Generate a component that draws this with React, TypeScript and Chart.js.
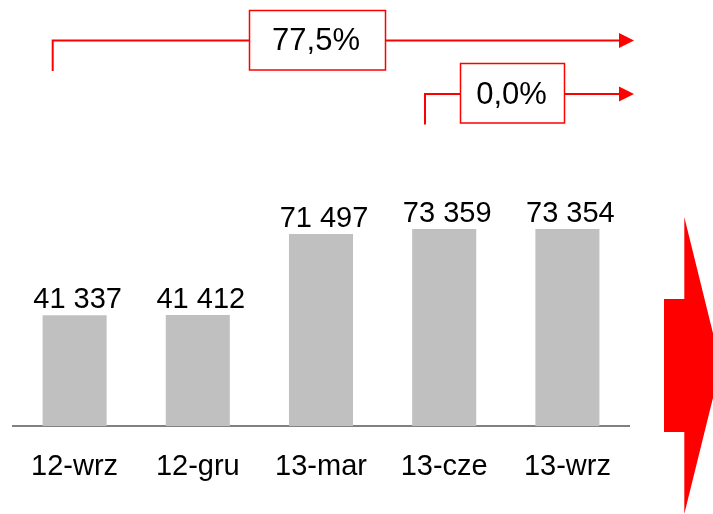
import React, { useEffect, useRef } from "react";
import { Chart, registerables } from "chart.js";

Chart.register(...registerables);

const categories = ["12-wrz", "12-gru", "13-mar", "13-cze", "13-wrz"];
const values = [41337, 41412, 71497, 73359, 73354];
const changeLabels = ["77,5%", "0,0%"];

const FONT = "'Liberation Sans', Arial, sans-serif";
const RED = "#ff0000";

function fmt(v: number): string {
  return String(v).replace(/\B(?=(\d{3})+(?!\d))/g, " ");
}

const valueLabelPlugin = {
  id: "valueLabels",
  afterDatasetsDraw(chart: any) {
    const ctx = chart.ctx;
    const meta = chart.getDatasetMeta(0);
    ctx.save();
    ctx.fillStyle = "#000";
    ctx.font = `29px ${FONT}`;
    ctx.textAlign = "center";
    ctx.textBaseline = "alphabetic";
    meta.data.forEach((bar: any, i: number) => {
      ctx.fillText(fmt(values[i]), bar.x + 3, bar.y - 7);
    });
    ctx.restore();
  },
};

function arrowHead(ctx: CanvasRenderingContext2D, x: number, y: number) {
  ctx.beginPath();
  ctx.moveTo(x, y - 7.5);
  ctx.lineTo(x + 15, y);
  ctx.lineTo(x, y + 7.5);
  ctx.closePath();
  ctx.fill();
}

const decorPlugin = {
  id: "decor",
  afterDraw(chart: any) {
    const ctx: CanvasRenderingContext2D = chart.ctx;
    ctx.save();
    ctx.strokeStyle = RED;
    ctx.fillStyle = RED;
    ctx.lineWidth = 2;

    // Line 1
    ctx.beginPath();
    ctx.moveTo(52.7, 71);
    ctx.lineTo(52.7, 40.5);
    ctx.lineTo(620, 40.5);
    ctx.stroke();
    arrowHead(ctx, 619, 40.5);

    // Line 2
    ctx.beginPath();
    ctx.moveTo(425, 124.5);
    ctx.lineTo(425, 94);
    ctx.lineTo(620, 94);
    ctx.stroke();
    arrowHead(ctx, 619, 94);

    // Boxes
    ctx.lineWidth = 1.5;
    const boxes = [
      { x: 249.5, y: 10.5, w: 136, h: 59.5, tx: 316, ty: 41, label: changeLabels[0] },
      { x: 460.5, y: 63.5, w: 104, h: 59.5, tx: 511.5, ty: 95, label: changeLabels[1] },
    ];
    boxes.forEach((b) => {
      ctx.fillStyle = "#fff";
      ctx.fillRect(b.x, b.y, b.w, b.h);
      ctx.strokeStyle = RED;
      ctx.strokeRect(b.x, b.y, b.w, b.h);
      ctx.fillStyle = "#000";
      ctx.font = `31px ${FONT}`;
      ctx.textAlign = "center";
      ctx.textBaseline = "middle";
      ctx.fillText(b.label, b.tx, b.ty);
    });

    // Big arrow
    ctx.fillStyle = RED;
    ctx.beginPath();
    ctx.moveTo(664, 299);
    ctx.lineTo(684.3, 299);
    ctx.lineTo(684.3, 217);
    ctx.lineTo(721, 365.5);
    ctx.lineTo(684.3, 514);
    ctx.lineTo(684.3, 432);
    ctx.lineTo(664, 432);
    ctx.closePath();
    ctx.fill();
    ctx.restore();
  },
};

export default function App() {
  const ref = useRef<HTMLCanvasElement>(null);
  useEffect(() => {
    document.body.style.margin = "0";
    const chart = new Chart(ref.current as HTMLCanvasElement, {
      type: "bar",
      data: {
        labels: categories,
        datasets: [
          {
            data: values,
            backgroundColor: "#c0c0c0",
            borderWidth: 0,
            barPercentage: 0.52,
            categoryPercentage: 1,
          },
        ],
      },
      options: {
        animation: false,
        responsive: false,
        devicePixelRatio: 1,
        layout: { padding: { left: 13, right: 84, top: 157.5, bottom: 7 } },
        plugins: { legend: { display: false }, tooltip: { enabled: false } },
        scales: {
          x: {
            z: 1,
            grid: { display: false, drawTicks: false },
            border: { display: true, color: "#808080", width: 2 },
            ticks: {
              color: "#000",
              padding: 23,
              font: { family: FONT, size: 29, lineHeight: 1.2 },
            },
          },
          y: { display: false, min: 0, max: 100000 },
        },
      },
      plugins: [valueLabelPlugin, decorPlugin],
    });
    return () => chart.destroy();
  }, []);
  return (
    <div style={{ width: 713, height: 514 }}>
      <canvas ref={ref} width={713} height={514} style={{ display: "block" }} />
    </div>
  );
}
